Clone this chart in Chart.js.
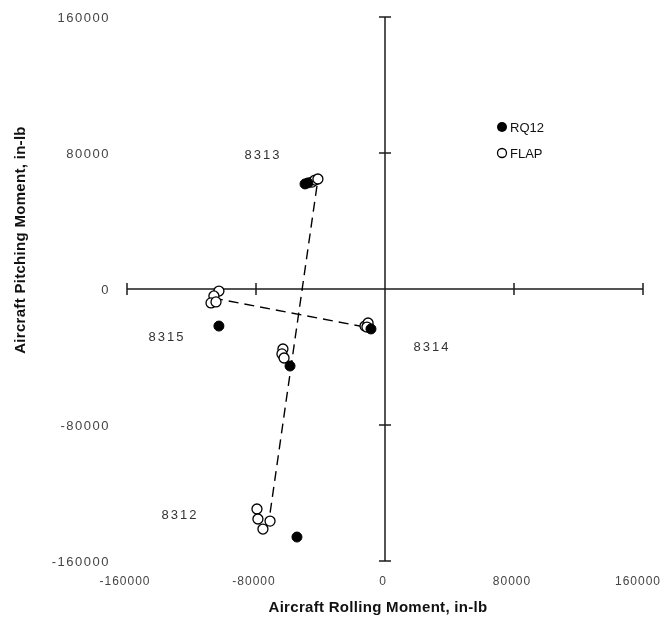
<!DOCTYPE html>
<html>
<head>
<meta charset="utf-8">
<script src="https://cdn.jsdelivr.net/npm/chart.js@4.4.1/dist/chart.umd.min.js"></script>
<style>
  html, body { margin: 0; padding: 0; background: #fff; }
  #wrap { width: 662px; height: 626px; }
</style>
</head>
<body>
<div id="wrap"><canvas id="moments"></canvas></div>
<script>
// rolling moment (x) and pitching moment (y), in-lb
var rq12X = [-49600, -47800, -103000, -8700, -58900, -54600];
var rq12Y = [61800, 62400, -21800, -23500, -45300, -145900];

var flapX = [-45300, -43400, -41600, -103000, -106100, -107900, -104800, -12400, -10500, -11200,
             -63300, -63900, -62600, -79400, -78800, -75700, -71300];
var flapY = [62900, 64100, 64700, -1200, -4100, -8200, -7600, -21800, -20000, -22400,
             -35300, -38200, -40600, -129400, -135300, -141200, -136500];

// dashed lines through the FLAP groups
var line1X = [-42200, -71900];
var line1Y = [60600, -135900];
var line2X = [-106700, -9300];
var line2Y = [-5300, -22900];

var xTicks = [-160000, -80000, 0, 80000, 160000];
var yTicks = [160000, 80000, 0, -80000, -160000];

var runLabels = ['8313', '8315', '8314', '8312'];
var runLabelX = [-75700, -135200, 29100, -127100];
var runLabelY = [78800, -28200, -34100, -132900];

function pts(xs, ys) {
  return xs.map(function (x, i) { return { x: x, y: ys[i] }; });
}

var crossAxes = {
  id: 'crossAxes',
  beforeDatasetsDraw: function (chart) {
    var ctx = chart.ctx, xs = chart.scales.x, ys = chart.scales.y;
    var x0 = xs.getPixelForValue(0), y0 = ys.getPixelForValue(0);
    ctx.save();
    ctx.strokeStyle = '#1c1c1c';
    ctx.lineWidth = 1.5;
    ctx.beginPath();
    ctx.moveTo(xs.getPixelForValue(-160000), y0);
    ctx.lineTo(xs.getPixelForValue(160000), y0);
    ctx.moveTo(x0, ys.getPixelForValue(160000));
    ctx.lineTo(x0, ys.getPixelForValue(-160000));
    xTicks.forEach(function (v) {
      if (v === 0) return;
      var p = xs.getPixelForValue(v);
      ctx.moveTo(p, y0 - 6);
      ctx.lineTo(p, y0 + 6);
    });
    yTicks.forEach(function (v) {
      if (v === 0) return;
      var p = ys.getPixelForValue(v);
      ctx.moveTo(x0 - 6, p);
      ctx.lineTo(x0 + 6, p);
    });
    ctx.stroke();

    // tick labels
    ctx.fillStyle = '#444';
    ctx.font = '13px "Liberation Sans", Arial, sans-serif';
    ctx.letterSpacing = '1.5px';
    ctx.textAlign = 'right';
    ctx.textBaseline = 'middle';
    yTicks.forEach(function (v) {
      ctx.fillText(String(v), 110, ys.getPixelForValue(v) + 1);
    });
    ctx.font = '12px "Liberation Sans", Arial, sans-serif';
    ctx.letterSpacing = '1px';
    ctx.textAlign = 'center';
    xTicks.forEach(function (v) {
      var p = xs.getPixelForValue(v) - 2;
      var half = ctx.measureText(String(v)).width / 2;
      if (p + half > chart.width - 1) p = chart.width - 1 - half;
      ctx.fillText(String(v), p, 582);
    });

    // axis titles
    ctx.fillStyle = '#111';
    ctx.font = 'bold 15px "Liberation Sans", Arial, sans-serif';
    ctx.letterSpacing = '0.3px';
    ctx.fillText('Aircraft Rolling Moment, in-lb', 378, 608);
    ctx.save();
    ctx.translate(21, 240);
    ctx.rotate(-Math.PI / 2);
    ctx.fillText('Aircraft Pitching Moment, in-lb', 0, 0);
    ctx.restore();

    // run numbers
    ctx.fillStyle = '#333';
    ctx.font = '13px "Liberation Sans", Arial, sans-serif';
    ctx.letterSpacing = '2px';
    runLabels.forEach(function (t, i) {
      ctx.fillText(t, xs.getPixelForValue(runLabelX[i]), ys.getPixelForValue(runLabelY[i]));
    });
    ctx.letterSpacing = '0px';

    // legend
    ctx.lineWidth = 1.3;
    ctx.strokeStyle = '#000';
    ctx.fillStyle = '#000';
    ctx.beginPath();
    ctx.arc(502, 127, 5, 0, Math.PI * 2);
    ctx.fill();
    ctx.beginPath();
    ctx.arc(502, 153, 4.5, 0, Math.PI * 2);
    ctx.fillStyle = '#fff';
    ctx.fill();
    ctx.stroke();
    ctx.fillStyle = '#111';
    ctx.font = '13px "Liberation Sans", Arial, sans-serif';
    ctx.textAlign = 'left';
    ctx.fillText('RQ12', 510, 128);
    ctx.fillText('FLAP', 510, 154);
    ctx.restore();
  }
};

new Chart(document.getElementById('moments'), {
  type: 'scatter',
  data: {
    datasets: [
      {
        label: 'RQ12',
        data: pts(rq12X, rq12Y),
        pointRadius: 5,
        backgroundColor: '#000',
        borderColor: '#000',
        borderWidth: 1
      },
      {
        label: 'FLAP',
        data: pts(flapX, flapY),
        pointRadius: 5,
        backgroundColor: '#fff',
        borderColor: '#000',
        borderWidth: 1.3
      },
      {
        label: 'line1',
        data: pts(line1X, line1Y),
        showLine: true,
        pointRadius: 0,
        borderColor: '#000',
        borderWidth: 1.4,
        borderDash: [10, 6]
      },
      {
        label: 'line2',
        data: pts(line2X, line2Y),
        showLine: true,
        pointRadius: 0,
        borderColor: '#000',
        borderWidth: 1.4,
        borderDash: [10, 6]
      }
    ]
  },
  options: {
    responsive: true,
    maintainAspectRatio: false,
    animation: false,
    layout: { padding: { left: 127, right: 19, top: 17, bottom: 65 } },
    scales: {
      x: { type: 'linear', min: -160000, max: 160000, display: false },
      y: { type: 'linear', min: -160000, max: 160000, display: false }
    },
    plugins: {
      legend: { display: false },
      tooltip: { enabled: false }
    }
  },
  plugins: [crossAxes]
});
</script>
</body>
</html>
